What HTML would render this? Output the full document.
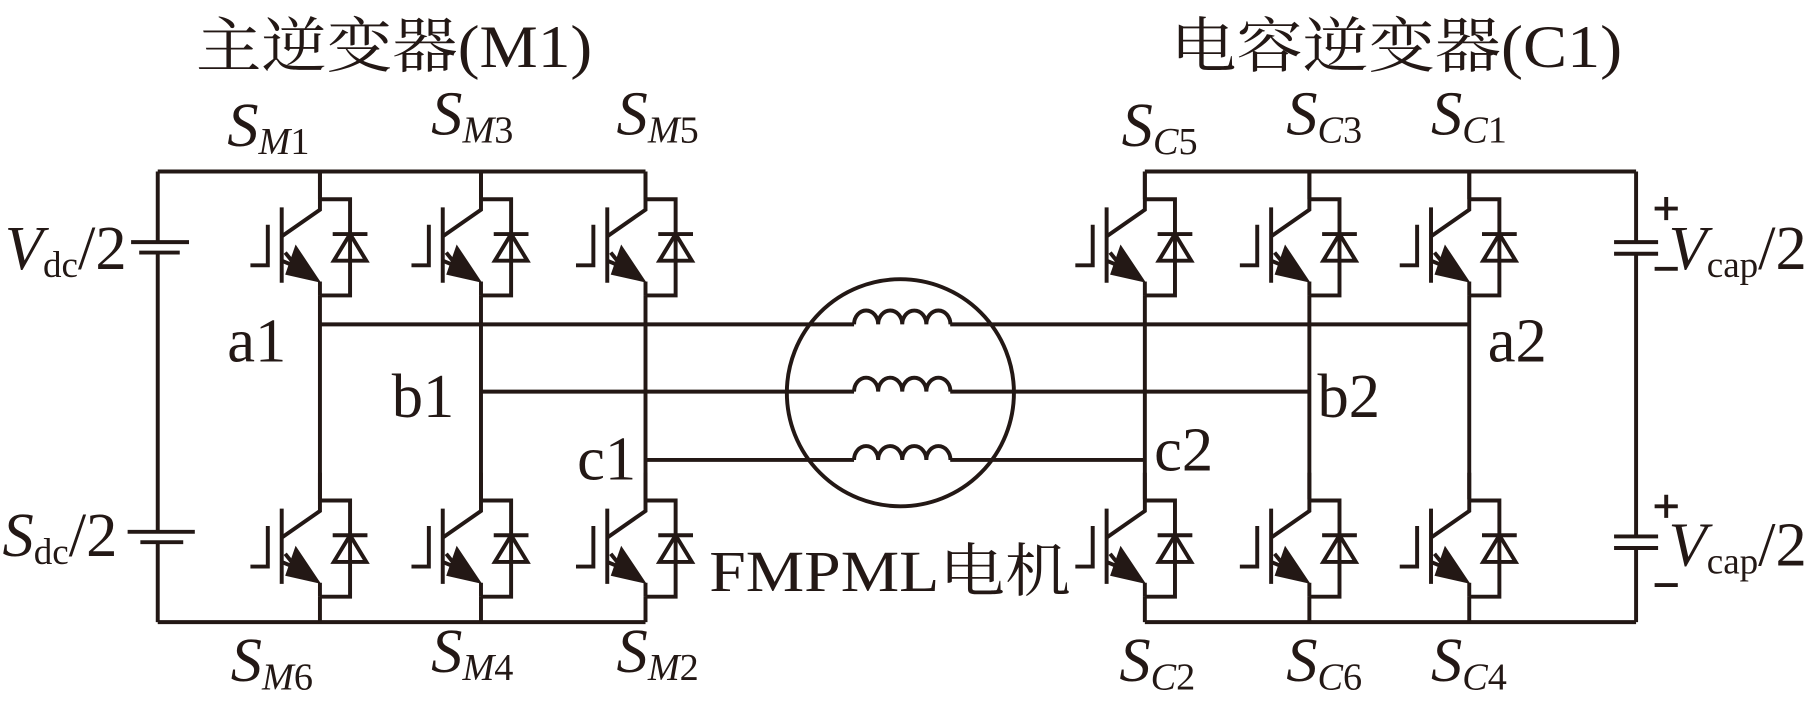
<!DOCTYPE html>
<html><head><meta charset="utf-8"><style>
html,body{margin:0;padding:0;background:#fff;}
svg{display:block;}
text{font-family:"Liberation Serif","Noto Serif CJK SC",serif;fill:#231815;}
</style></head><body>
<svg width="1817" height="716" viewBox="0 0 1568 618" xmlns="http://www.w3.org/2000/svg">
<defs>
<g id="igbt" stroke="#231815" stroke-width="3.4" fill="none">
  <path d="M0,0 V33 L-33,56"/>
  <path d="M-33,31 V96"/>
  <path d="M-45,46 V81 H-60"/>
  <path d="M-33,77 L-16,84"/>
  <path d="M-30,70 L-22,80"/>
  <path d="M0,95 V107"/>
  <polygon points="1,96 -21,63 -30,89" fill="#231815" stroke="none"/>
  <path d="M0,24 H26 V107 H0"/>
  <path d="M11,54 H41"/>
  <polygon points="26,54 12,77 40,77"/>
</g>
</defs>
<g stroke="#231815" stroke-width="3.4" fill="none">
  <path d="M136,148 H557 M136,537 H557"/>
  <path d="M136,148 V209 M136,218 V459 M136,468 V537"/>
  <path d="M113,209 H163 M120,218 H155"/>
  <path d="M110,459 H168 M121,468 H158"/>
  <path d="M988,148 H1412 M988,537 H1412"/>
  <path d="M1412,148 V209 M1412,219 V463 M1412,473 V537"/>
  <path d="M1393,209 H1431 M1393,219 H1431"/>
  <path d="M1393,463 H1431 M1393,473 H1431"/>
  <path d="M276,148 V172 M276,255 V431 M276,515 V537"/>
  <path d="M415,148 V172 M415,255 V431 M415,515 V537"/>
  <path d="M557,148 V172 M557,255 V431 M557,515 V537"/>
  <path d="M988,148 V172 M988,255 V431 M988,515 V537"/>
  <path d="M1130,148 V172 M1130,255 V431 M1130,515 V537"/>
  <path d="M1268,148 V172 M1268,255 V431 M1268,515 V537"/>
  <path d="M276,280 H737 M820,280 H1268"/>
  <path d="M415,338 H737 M820,338 H1130"/>
  <path d="M557,397 H737 M820,397 H988"/>
  <path d="M737,280 a10.4,12 0 0 1 20.8,0 a10.4,12 0 0 1 20.8,0 a10.4,12 0 0 1 20.8,0 a10.4,12 0 0 1 20.8,0"/>
  <path d="M737,338 a10.4,12 0 0 1 20.8,0 a10.4,12 0 0 1 20.8,0 a10.4,12 0 0 1 20.8,0 a10.4,12 0 0 1 20.8,0"/>
  <path d="M737,397 a10.4,12 0 0 1 20.8,0 a10.4,12 0 0 1 20.8,0 a10.4,12 0 0 1 20.8,0 a10.4,12 0 0 1 20.8,0"/>
  <circle cx="777" cy="339" r="98"/>
  <path d="M1428,180 H1448 M1438,170 V190 M1428,232 H1448"/>
  <path d="M1428,437 H1448 M1438,427 V447 M1428,505 H1448"/>
</g>
<use href="#igbt" x="276" y="148"/><use href="#igbt" x="415" y="148"/><use href="#igbt" x="557" y="148"/>
<use href="#igbt" x="276" y="408"/><use href="#igbt" x="415" y="408"/><use href="#igbt" x="557" y="408"/>
<use href="#igbt" x="988" y="148"/><use href="#igbt" x="1130" y="148"/><use href="#igbt" x="1268" y="148"/>
<use href="#igbt" x="988" y="408"/><use href="#igbt" x="1130" y="408"/><use href="#igbt" x="1268" y="408"/>

<text x="169" y="58" font-size="52" textLength="342" lengthAdjust="spacingAndGlyphs">主逆变器(M1)</text>
<text x="1010" y="58" font-size="52" textLength="390" lengthAdjust="spacingAndGlyphs">电容逆变器(C1)</text>

<g font-size="54">
<text x="196" y="126"><tspan font-style="italic">S</tspan><tspan font-size="33" dy="7" font-style="italic">M</tspan><tspan font-size="33">1</tspan></text>
<text x="372" y="116"><tspan font-style="italic">S</tspan><tspan font-size="33" dy="7" font-style="italic">M</tspan><tspan font-size="33">3</tspan></text>
<text x="532" y="116"><tspan font-style="italic">S</tspan><tspan font-size="33" dy="7" font-style="italic">M</tspan><tspan font-size="33">5</tspan></text>
<text x="199" y="588"><tspan font-style="italic">S</tspan><tspan font-size="33" dy="7" font-style="italic">M</tspan><tspan font-size="33">6</tspan></text>
<text x="372" y="580"><tspan font-style="italic">S</tspan><tspan font-size="33" dy="7" font-style="italic">M</tspan><tspan font-size="33">4</tspan></text>
<text x="532" y="580"><tspan font-style="italic">S</tspan><tspan font-size="33" dy="7" font-style="italic">M</tspan><tspan font-size="33">2</tspan></text>
<text x="968" y="126"><tspan font-style="italic">S</tspan><tspan font-size="33" dy="7" font-style="italic">C</tspan><tspan font-size="33">5</tspan></text>
<text x="1110" y="116"><tspan font-style="italic">S</tspan><tspan font-size="33" dy="7" font-style="italic">C</tspan><tspan font-size="33">3</tspan></text>
<text x="1235" y="116"><tspan font-style="italic">S</tspan><tspan font-size="33" dy="7" font-style="italic">C</tspan><tspan font-size="33">1</tspan></text>
<text x="966" y="588"><tspan font-style="italic">S</tspan><tspan font-size="33" dy="7" font-style="italic">C</tspan><tspan font-size="33">2</tspan></text>
<text x="1110" y="588"><tspan font-style="italic">S</tspan><tspan font-size="33" dy="7" font-style="italic">C</tspan><tspan font-size="33">6</tspan></text>
<text x="1235" y="588"><tspan font-style="italic">S</tspan><tspan font-size="33" dy="7" font-style="italic">C</tspan><tspan font-size="33">4</tspan></text>

<text x="196" y="312">a1</text>
<text x="338" y="360">b1</text>
<text x="498" y="414">c1</text>
<text x="1284" y="312">a2</text>
<text x="1137" y="360">b2</text>
<text x="996" y="406">c2</text>

<text x="4" y="232"><tspan font-style="italic">V</tspan><tspan font-size="32" dy="7">dc</tspan><tspan dy="-7">/2</tspan></text>
<text x="2" y="480"><tspan font-style="italic">S</tspan><tspan font-size="32" dy="7">dc</tspan><tspan dy="-7">/2</tspan></text>
<text x="1440" y="232"><tspan font-style="italic">V</tspan><tspan font-size="32" dy="7">cap</tspan><tspan dy="-7">/2</tspan></text>
<text x="1440" y="488"><tspan font-style="italic">V</tspan><tspan font-size="32" dy="7">cap</tspan><tspan dy="-7">/2</tspan></text>

<text x="612" y="510" font-size="50" textLength="312" lengthAdjust="spacingAndGlyphs">FMPML电机</text>
</g>
</svg>
</body></html>
